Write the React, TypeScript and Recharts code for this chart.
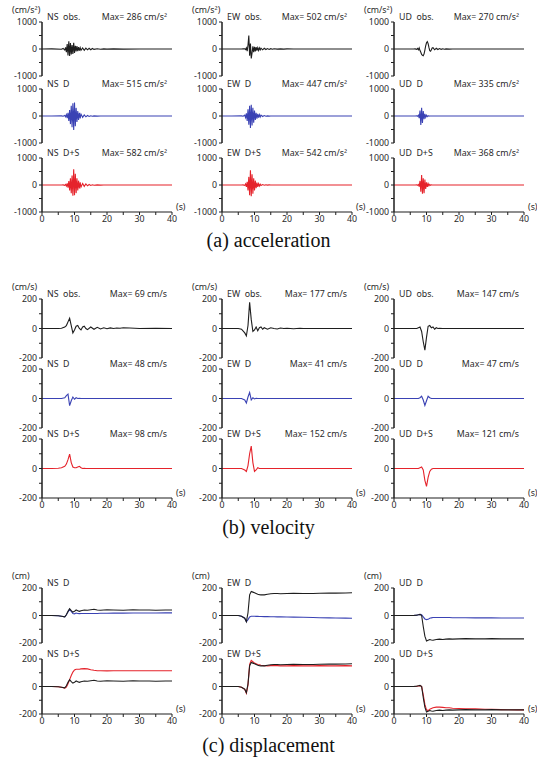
import { LineChart, Line, XAxis, YAxis } from "recharts";

// time axes (s)
const ACC_T = [0, 3, 6, 6.5, 7, 7.25, 7.5, 7.75, 8, 8.25, 8.5, 8.75, 9, 9.25, 9.5, 9.75, 10, 10.25, 10.5, 10.75, 11, 11.25, 11.5, 11.75, 12, 12.5, 13, 13.5, 14, 14.5, 15, 15.5, 16, 17, 18, 19, 20, 22, 25, 30, 35, 40];
const VEL_T = [0, 3, 5, 6, 7, 7.5, 8, 8.5, 9, 9.5, 10, 10.5, 11, 11.5, 12, 12.5, 13, 13.5, 14, 15, 16, 17, 18, 19, 20, 21, 22, 23, 24, 25, 27, 30, 35, 40];
const DIS_T = [0, 3, 5, 6, 7, 7.5, 8, 8.5, 9, 9.5, 10, 10.5, 11, 11.5, 12, 13, 14, 15, 16, 17, 18, 20, 22, 25, 28, 30, 33, 35, 38, 40];

// acceleration (cm/s2)
const ACC_NS_OBS = [0, 5, -10, 20, -40, 60, -120, 180, -240, 286, -260, 220, -200, 150, -180, 230, -150, 120, -90, 110, -80, 70, -60, 50, -50, 40, -45, 35, -30, 25, -25, 20, -15, 10, -8, 6, -5, 4, -3, 2, -2, 0];
const ACC_NS_D = [0, 0, 5, -10, 20, -30, 50, -80, 120, -180, 220, -300, 380, -420, 470, -515, 500, -380, 300, -220, 180, -150, 120, -90, 70, -50, 40, -30, 20, -15, 10, -8, 5, -3, 2, 0, 0, 0, 0, 0, 0, 0];
const ACC_NS_DS = [0, 0, 0, 5, -10, 20, -40, 60, -100, 150, -200, 250, -300, 350, -400, 582, -380, 420, -300, 250, -200, 160, -130, 100, -80, 60, -50, 40, -30, 20, -15, 10, -8, 5, -3, 2, 0, 0, 0, 0, 0, 0];
const ACC_EW_OBS = [0, 0, 0, 5, 10, -20, 40, -80, 150, 502, -250, 200, -350, -150, 100, -120, 80, -90, 70, -60, 50, -50, 40, -35, 30, -30, 25, -20, 18, -15, 12, -10, 8, -6, 5, -4, 3, -2, 1, 0, 0, 0];
const ACC_EW_D = [0, 0, 5, -10, 30, -60, 100, -180, 250, -320, 380, -447, 420, -350, 300, -250, 200, -150, 120, -100, 80, -60, 50, -40, 30, -20, 15, -10, 5, -3, 0, 0, 0, 0, 0, 0, 0, 0, 0, 0, 0, 0];
const ACC_EW_DS = [0, 0, 0, 5, -15, 40, -70, 120, -200, 300, -380, 542, -420, 400, -320, 250, -200, 160, -120, 90, -70, 50, -40, 30, -20, 15, -10, 8, -5, 3, 0, 0, 0, 0, 0, 0, 0, 0, 0, 0, 0, 0];
const ACC_UD_OBS = [0, 0, 0, 5, -10, 20, -30, 40, -60, -120, -200, -230, -250, -180, -40, 120, 230, 270, 200, 60, -60, -80, -30, 40, 50, -30, 25, -20, 15, -12, 10, -8, 5, -3, 2, -1, 0, 0, 0, 0, 0, 0];
const ACC_UD_D = [0, 0, 0, 0, 5, -10, 30, -80, 200, -335, 300, -260, 180, -120, 80, -50, 30, -20, 10, -5, 0, 0, 0, 0, 0, 0, 0, 0, 0, 0, 0, 0, 0, 0, 0, 0, 0, 0, 0, 0, 0, 0];
const ACC_UD_DS = [0, 0, 0, 0, 5, -10, 20, -60, 150, -250, 368, -320, 250, -300, 200, -150, 100, -70, 50, -30, 20, -10, 5, 0, 0, 0, 0, 0, 0, 0, 0, 0, 0, 0, 0, 0, 0, 0, 0, 0, 0, 0];

// velocity (cm/s)
const VEL_NS_OBS = [0, 0, 0, 2, 10, 20, 45, 69, 20, -30, -10, 15, 20, 0, -10, 10, 15, 0, -8, 10, -5, 8, -3, 5, -2, 4, 0, 3, 2, 5, 3, 0, 2, 0];
const VEL_NS_D = [0, 0, 0, 0, 5, 20, 30, -48, -15, 10, -5, 5, 0, 2, 0, 0, 0, 0, 0, 0, 0, 0, 0, 0, 0, 0, 0, 0, 0, 0, 0, 0, 0, 0];
const VEL_NS_DS = [0, 0, 2, 5, 15, 30, 60, 98, 40, 10, 5, 5, 10, 15, 5, 0, 2, 0, 0, 0, 0, 0, 0, 0, 0, 0, 0, 0, 0, 0, 0, 0, 0, 0];
const VEL_EW_OBS = [0, 0, 0, -5, -30, -50, 20, 177, 60, -20, -10, 10, -15, 5, 10, -5, 5, 0, -5, 5, 0, -3, 3, 0, 2, 0, -2, 0, 2, 0, 0, 0, 0, 0];
const VEL_EW_D = [0, 0, 0, 0, -10, -30, 10, 41, -10, 5, -3, 2, 0, 0, 0, 0, 0, 0, 0, 0, 0, 0, 0, 0, 0, 0, 0, 0, 0, 0, 0, 0, 0, 0];
const VEL_EW_DS = [0, 0, 0, 0, -10, -20, 20, 100, 152, 40, -20, -10, 5, 0, 0, 0, 0, 0, 0, 0, 0, 0, 0, 0, 0, 0, 0, 0, 0, 0, 0, 0, 0, 0];
const VEL_UD_OBS = [0, 0, 0, 0, 0, 5, 10, -20, -90, -147, -60, 15, 20, 5, 10, -5, 5, 0, 2, 0, 0, 0, 0, 0, 0, 0, 0, 0, 0, 0, 0, 0, 0, 0];
const VEL_UD_D = [0, 0, 0, 0, 0, 0, 5, 15, -10, -47, -15, 15, 5, 0, 0, 0, 0, 0, 0, 0, 0, 0, 0, 0, 0, 0, 0, 0, 0, 0, 0, 0, 0, 0];
const VEL_UD_DS = [0, 0, 0, 0, 0, 0, 5, 10, -10, -80, -121, -60, -20, -5, 0, 0, 0, 0, 0, 0, 0, 0, 0, 0, 0, 0, 0, 0, 0, 0, 0, 0, 0, 0];

// displacement (cm)
const DIS_NS_OBS = [0, 0, -2, -5, -10, 5, 30, 50, 35, 25, 30, 40, 35, 30, 35, 40, 38, 42, 45, 40, 38, 42, 40, 38, 42, 40, 40, 38, 40, 40];
const DIS_NS_D = [0, 0, -2, -5, -10, 5, 25, 45, 30, 15, 12, 18, 15, 14, 15, 15, 15, 15, 15, 15, 16, 16, 17, 17, 18, 18, 18, 18, 19, 19];
const DIS_NS_DS = [0, 0, -2, -5, -12, -5, 20, 50, 80, 105, 120, 125, 125, 126, 128, 130, 128, 122, 118, 115, 115, 114, 115, 115, 115, 115, 115, 115, 115, 115];
const DIS_EW_OBS = [0, 0, 0, -5, -20, -45, 20, 150, 175, 170, 165, 160, 155, 152, 150, 150, 155, 158, 160, 160, 158, 160, 162, 160, 160, 162, 163, 163, 164, 165];
const DIS_EW_D = [0, 0, 0, -5, -20, -45, -30, -10, -5, -5, -5, -6, -6, -7, -7, -8, -8, -9, -9, -10, -10, -11, -12, -13, -15, -16, -17, -18, -19, -20];
const DIS_EW_DS = [0, 0, 0, -5, -20, -50, 10, 160, 190, 180, 170, 165, 160, 158, 155, 152, 150, 152, 153, 152, 150, 150, 152, 150, 150, 152, 150, 150, 152, 150];
const DIS_UD_OBS = [0, 0, 0, 0, 3, 5, 8, 0, -80, -150, -185, -180, -175, -178, -180, -175, -172, -175, -172, -170, -172, -170, -168, -170, -170, -168, -170, -170, -170, -170];
const DIS_UD_D = [0, 0, 0, 0, 3, 5, 8, 5, -10, -25, -30, -28, -20, -17, -15, -15, -15, -15, -15, -15, -16, -16, -16, -17, -17, -17, -18, -18, -18, -18];
const DIS_UD_DS = [0, 0, 0, 0, 2, 4, 5, 0, -60, -130, -170, -175, -165, -160, -155, -150, -150, -152, -155, -155, -158, -160, -162, -163, -165, -166, -168, -169, -170, -170];

const X_TICKS = [0, 5, 10, 15, 20, 25, 30, 35, 40];

const BLACK = "#1e1e1e";
const BLUE = "#3a42b4";
const RED = "#e5232b";
const FONT = "'Noto Sans', sans-serif";

const COLS = [42, 222, 394];
const PLOT_W = 130;
const YW = 40;
const MT = 7;
const MB = 7;
const MR = 6;

type Series = { values: number[]; color: string };

type PanelProps = {
  x: number;
  y: number;
  h: number;
  time: number[];
  series: Series[];
  lim: number;
  name: string;
  max?: string;
  unit?: string;
  showX?: boolean;
};

function Panel({ x, y, h, time, series, lim, name, max, unit, showX }: PanelProps) {
  const data = time.map((t, i) => {
    const row: any = { t };
    series.forEach((s, k) => (row["s" + k] = s.values[i]));
    return row;
  });
  const ticks = [-lim, -lim / 2, 0, lim / 2, lim];
  const mb = showX ? 0 : MB;
  const txt = { position: "absolute" as const, fontFamily: FONT, fontSize: 8.8, lineHeight: "10px", color: "#2a2a2a", whiteSpace: "pre" as const };
  return (
    <>
      <div style={{ position: "absolute", left: x - YW, top: y - MT }}>
        <LineChart width={YW + PLOT_W + MR} height={MT + h + (showX ? 16 : mb)} data={data} margin={{ top: MT, right: MR, bottom: mb, left: 0 }}>
          <XAxis
            dataKey="t"
            type="number"
            domain={[0, 40]}
            ticks={X_TICKS}
            interval={0}
            hide={!showX}
            height={16}
            tickSize={3}
            tickMargin={1}
            stroke={BLACK}
            axisLine={{ stroke: BLACK, strokeWidth: 1.2 }}
            tick={{ fontSize: 8.8, fill: "#2a2a2a", fontFamily: FONT }}
            tickFormatter={(v: number) => (v % 10 === 0 ? String(v) : "")}
          />
          <YAxis
            width={YW}
            type="number"
            domain={[-lim, lim]}
            ticks={ticks}
            interval={0}
            tickSize={3}
            tickMargin={2}
            stroke={BLACK}
            axisLine={{ stroke: BLACK, strokeWidth: 1.5 }}
            tick={{ fontSize: 8.8, fill: "#2a2a2a", fontFamily: FONT }}
            tickFormatter={(v: number) => (Math.abs(v) === lim / 2 ? "" : String(v))}
          />
          {series.map((s, k) => (
            <Line key={k} dataKey={"s" + k} stroke={s.color} strokeWidth={1.1} dot={false} isAnimationActive={false} />
          ))}
        </LineChart>
      </div>
      {unit && <div style={{ ...txt, left: x - 30, top: y - 17 }}>{unit}</div>}
      <div style={{ ...txt, left: x + 5, top: y - 10 }}>{name}</div>
      {max && <div style={{ ...txt, left: x + 40, width: 85, textAlign: "right", top: y - 10 }}>{max}</div>}
      {showX && <div style={{ ...txt, left: x + 134, top: y + h - 10 }}>(s)</div>}
    </>
  );
}

function Title({ text, y }: { text: string; y: number }) {
  return (
    <div style={{ position: "absolute", left: 0, width: 537, top: y, textAlign: "center", fontFamily: "'Liberation Serif', serif", fontSize: 20, lineHeight: "22px", color: "#111" }}>
      {text}
    </div>
  );
}

const ACC_ROWS = [22, 89, 158];
const ACC_H = 54;
const VEL_ROWS = [299, 369, 439];
const VEL_H = 59;
const DIS_ROWS = [588, 659];
const DIS_H = 55;

export default function App() {
  const accUnit = "(cm/s²)";
  return (
    <div style={{ position: "absolute", left: 0, top: 0, width: 537, height: 762, background: "#fff", overflow: "hidden" }}>
      {/* acceleration */}
      <Panel x={COLS[0]} y={ACC_ROWS[0]} h={ACC_H} time={ACC_T} lim={1000} unit={accUnit} name="NS  obs." max="Max= 286 cm/s²" series={[{ values: ACC_NS_OBS, color: BLACK }]} />
      <Panel x={COLS[0]} y={ACC_ROWS[1]} h={ACC_H} time={ACC_T} lim={1000} name="NS  D" max="Max= 515 cm/s²" series={[{ values: ACC_NS_D, color: BLUE }]} />
      <Panel x={COLS[0]} y={ACC_ROWS[2]} h={ACC_H} time={ACC_T} lim={1000} name="NS  D+S" max="Max= 582 cm/s²" showX series={[{ values: ACC_NS_DS, color: RED }]} />
      <Panel x={COLS[1]} y={ACC_ROWS[0]} h={ACC_H} time={ACC_T} lim={1000} unit={accUnit} name="EW  obs." max="Max= 502 cm/s²" series={[{ values: ACC_EW_OBS, color: BLACK }]} />
      <Panel x={COLS[1]} y={ACC_ROWS[1]} h={ACC_H} time={ACC_T} lim={1000} name="EW  D" max="Max= 447 cm/s²" series={[{ values: ACC_EW_D, color: BLUE }]} />
      <Panel x={COLS[1]} y={ACC_ROWS[2]} h={ACC_H} time={ACC_T} lim={1000} name="EW  D+S" max="Max= 542 cm/s²" showX series={[{ values: ACC_EW_DS, color: RED }]} />
      <Panel x={COLS[2]} y={ACC_ROWS[0]} h={ACC_H} time={ACC_T} lim={1000} unit={accUnit} name="UD  obs." max="Max= 270 cm/s²" series={[{ values: ACC_UD_OBS, color: BLACK }]} />
      <Panel x={COLS[2]} y={ACC_ROWS[1]} h={ACC_H} time={ACC_T} lim={1000} name="UD  D" max="Max= 335 cm/s²" series={[{ values: ACC_UD_D, color: BLUE }]} />
      <Panel x={COLS[2]} y={ACC_ROWS[2]} h={ACC_H} time={ACC_T} lim={1000} name="UD  D+S" max="Max= 368 cm/s²" showX series={[{ values: ACC_UD_DS, color: RED }]} />
      <Title text="(a) acceleration" y={229} />

      {/* velocity */}
      <Panel x={COLS[0]} y={VEL_ROWS[0]} h={VEL_H} time={VEL_T} lim={200} unit="(cm/s)" name="NS  obs." max="Max= 69 cm/s" series={[{ values: VEL_NS_OBS, color: BLACK }]} />
      <Panel x={COLS[0]} y={VEL_ROWS[1]} h={VEL_H} time={VEL_T} lim={200} name="NS  D" max="Max= 48 cm/s" series={[{ values: VEL_NS_D, color: BLUE }]} />
      <Panel x={COLS[0]} y={VEL_ROWS[2]} h={VEL_H} time={VEL_T} lim={200} name="NS  D+S" max="Max= 98 cm/s" showX series={[{ values: VEL_NS_DS, color: RED }]} />
      <Panel x={COLS[1]} y={VEL_ROWS[0]} h={VEL_H} time={VEL_T} lim={200} unit="(cm/s)" name="EW  obs." max="Max= 177 cm/s" series={[{ values: VEL_EW_OBS, color: BLACK }]} />
      <Panel x={COLS[1]} y={VEL_ROWS[1]} h={VEL_H} time={VEL_T} lim={200} name="EW  D" max="Max= 41 cm/s" series={[{ values: VEL_EW_D, color: BLUE }]} />
      <Panel x={COLS[1]} y={VEL_ROWS[2]} h={VEL_H} time={VEL_T} lim={200} name="EW  D+S" max="Max= 152 cm/s" showX series={[{ values: VEL_EW_DS, color: RED }]} />
      <Panel x={COLS[2]} y={VEL_ROWS[0]} h={VEL_H} time={VEL_T} lim={200} unit="(cm/s)" name="UD  obs." max="Max= 147 cm/s" series={[{ values: VEL_UD_OBS, color: BLACK }]} />
      <Panel x={COLS[2]} y={VEL_ROWS[1]} h={VEL_H} time={VEL_T} lim={200} name="UD  D" max="Max= 47 cm/s" series={[{ values: VEL_UD_D, color: BLUE }]} />
      <Panel x={COLS[2]} y={VEL_ROWS[2]} h={VEL_H} time={VEL_T} lim={200} name="UD  D+S" max="Max= 121 cm/s" showX series={[{ values: VEL_UD_DS, color: RED }]} />
      <Title text="(b) velocity" y={516} />

      {/* displacement */}
      <Panel x={COLS[0]} y={DIS_ROWS[0]} h={DIS_H} time={DIS_T} lim={200} unit="(cm)" name="NS  D" series={[{ values: DIS_NS_D, color: BLUE }, { values: DIS_NS_OBS, color: BLACK }]} />
      <Panel x={COLS[0]} y={DIS_ROWS[1]} h={DIS_H} time={DIS_T} lim={200} name="NS  D+S" showX series={[{ values: DIS_NS_DS, color: RED }, { values: DIS_NS_OBS, color: BLACK }]} />
      <Panel x={COLS[1]} y={DIS_ROWS[0]} h={DIS_H} time={DIS_T} lim={200} unit="(cm)" name="EW  D" series={[{ values: DIS_EW_D, color: BLUE }, { values: DIS_EW_OBS, color: BLACK }]} />
      <Panel x={COLS[1]} y={DIS_ROWS[1]} h={DIS_H} time={DIS_T} lim={200} name="EW  D+S" showX series={[{ values: DIS_EW_DS, color: RED }, { values: DIS_EW_OBS, color: BLACK }]} />
      <Panel x={COLS[2]} y={DIS_ROWS[0]} h={DIS_H} time={DIS_T} lim={200} unit="(cm)" name="UD  D" series={[{ values: DIS_UD_D, color: BLUE }, { values: DIS_UD_OBS, color: BLACK }]} />
      <Panel x={COLS[2]} y={DIS_ROWS[1]} h={DIS_H} time={DIS_T} lim={200} name="UD  D+S" showX series={[{ values: DIS_UD_DS, color: RED }, { values: DIS_UD_OBS, color: BLACK }]} />
      <Title text="(c) displacement" y={734} />
    </div>
  );
}
